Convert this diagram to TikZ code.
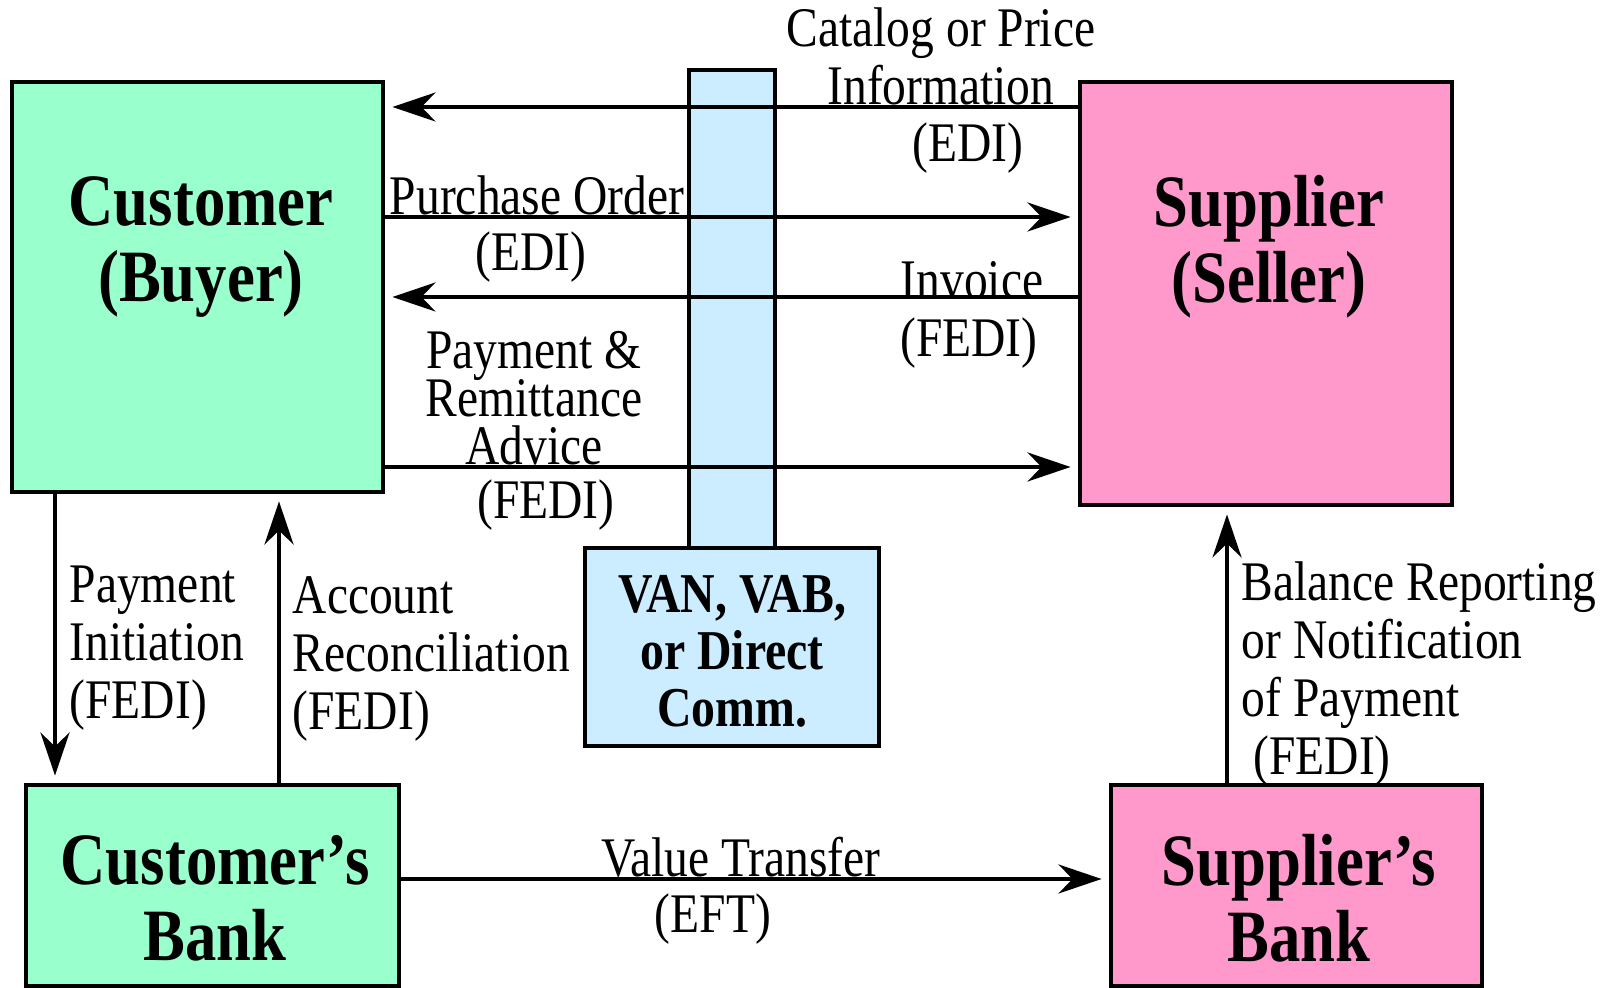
\documentclass[tikz,border=0pt]{standalone}
\usepackage{fontspec}
\setmainfont{Liberation Serif}[FakeStretch=0.85]
\usepackage{tikz}
\usetikzlibrary{arrows.meta}
\definecolor{buyer}{RGB}{153,255,204}
\definecolor{seller}{RGB}{255,153,204}
\definecolor{net}{RGB}{204,236,255}
\newcommand{\tightlines}{\lineskiplimit=-20pt\relax}
\tikzset{>/.tip={Stealth[length=4.3mm,width=2.9mm,inset=1.4mm]},
  party/.style={draw, line width=1.4pt, inner sep=0pt},
  flow/.style={->, line width=1.2pt, shorten >=0.07cm},
  tag/.style={inner sep=0pt, align=center, font=\fontsize{15.9}{16.5}\selectfont},
  boxtext/.style={inner sep=0pt, align=center, font=\bfseries\fontsize{21}{21.6}\selectfont}}

\begin{document}
\begin{tikzpicture}
\useasboundingbox (0,0) rectangle (16.16,-9.88);
\node[party, fill=buyer, minimum width=3.71cm, minimum height=4.10cm] (cust) at (1.975,-2.87) {};
\node[party, fill=seller, minimum width=3.72cm, minimum height=4.23cm] (supp) at (12.66,-2.935) {};
\node[party, fill=net, minimum width=0.86cm, minimum height=4.78cm] (col) at (7.32,-3.09) {};
\node[party, fill=net, minimum width=2.94cm, minimum height=1.98cm] (van) at (7.32,-6.47) {};
\node[party, fill=buyer, minimum width=3.73cm, minimum height=2.01cm] (cbank) at (2.125,-8.855) {};
\node[party, fill=seller, minimum width=3.71cm, minimum height=2.01cm] (sbank) at (12.965,-8.855) {};

\node[boxtext] (custname) at (2.01,-2.47) {Customer\\(Buyer)};
\node[boxtext] (suppname) at (12.69,-2.47) {Supplier\\(Seller)};
\node[boxtext, font=\bfseries\fontsize{16}{16.2}\selectfont] (vanname) at (7.32,-6.51) {VAN, VAB,\\or Direct\\Comm.};
\node[boxtext] (cbankname) at (2.15,-8.98) {Customer’s\\Bank};
\node[boxtext] (sbankname) at (12.99,-8.98) {Supplier’s\\Bank};

\draw[flow] (supp.west |- 0,-1.07) -- (cust.east |- 0,-1.07);
\draw[flow] (cust.east |- 0,-2.17) -- (supp.west |- 0,-2.17);
\draw[flow] (supp.west |- 0,-2.97) -- (cust.east |- 0,-2.97);
\draw[flow] (cust.east |- 0,-4.67) -- (supp.west |- 0,-4.67);
\draw[flow] (cust.south -| 0.55,0) -- (cbank.north -| 0.55,0);
\draw[flow] (cbank.north -| 2.79,0) -- (cust.south -| 2.79,0);
\draw[flow] (cbank.east |- 0,-8.79) -- (sbank.west |- 0,-8.79);
\draw[flow] (sbank.north -| 12.27,0) -- (supp.south -| 12.27,0);

\node[tag] (catalog) at (9.41,-0.56) {Catalog or Price\\Information};
\node[tag] (catalogedi) at (9.68,-1.48) {(EDI)};
\node[tag] (order) at (5.37,-1.95) {Purchase Order};
\node[tag] (orderedi) at (5.31,-2.57) {(EDI)};
\node[tag] (invoice) at (9.72,-2.80) {Invoice};
\node[tag] (invoicefedi) at (9.69,-3.43) {(FEDI)};
\node[tag, font=\fontsize{15.9}{13.6}\selectfont\tightlines] (advice) at (5.34,-3.98) {Payment \&\\Remittance\\Advice};
\node[tag] (advicefedi) at (5.46,-5.05) {(FEDI)};
\node[tag, anchor=west, align=left] (initiation) at (0.69,-6.48) {Payment\\Initiation\\(FEDI)};
\node[tag, anchor=west, align=left] (reconcile) at (2.92,-6.59) {Account\\Reconciliation\\(FEDI)};
\node[tag, anchor=west, align=left] (balance) at (12.41,-6.745) {Balance Reporting\\or Notification\\of Payment\\~(FEDI)};
\node[tag] (transfer) at (7.41,-8.57) {Value Transfer};
\node[tag] (transferedi) at (7.13,-9.19) {(EFT)};
\end{tikzpicture}
\end{document}
